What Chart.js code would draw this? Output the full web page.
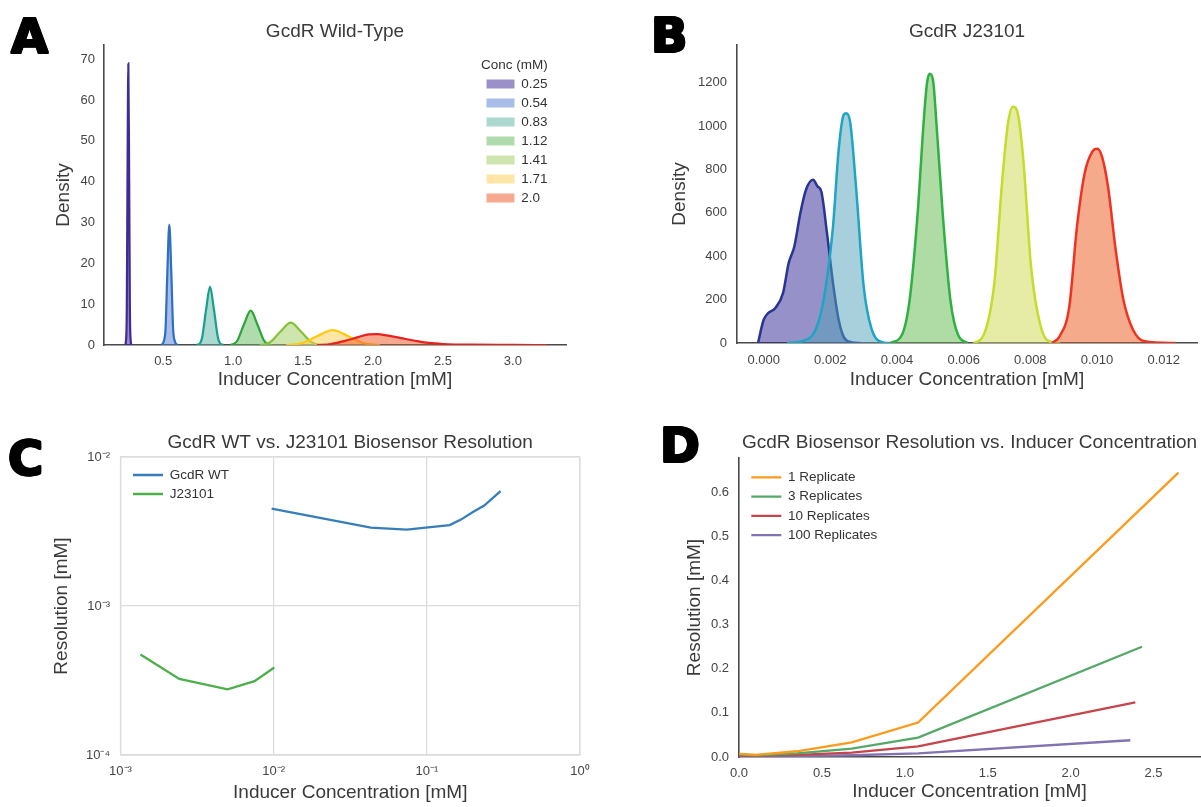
<!DOCTYPE html>
<html>
<head>
<meta charset="utf-8">
<script src="https://cdn.jsdelivr.net/npm/chart.js@4.4.1/dist/chart.umd.min.js"></script>
<style>
  body { margin: 0; background: #fff; }
  #fig { position: relative; width: 1201px; height: 807px; overflow: hidden; }
  #fig canvas { position: absolute; }
  .tag {
    position: absolute; line-height: 1; color: #000;
    font: bold 48px "DejaVu Sans", sans-serif;
    text-shadow: 1px 0 0 #000, -1px 0 0 #000, 0 1px 0 #000, 0 -1px 0 #000,
      1px 1px 0 #000, -1px -1px 0 #000, 1px -1px 0 #000, -1px 1px 0 #000;
  }
</style>
</head>
<body>
<div id="fig">
  <canvas id="chartA" width="600" height="400" style="left:0;top:0"></canvas>
  <canvas id="chartB" width="601" height="400" style="left:600px;top:0"></canvas>
  <canvas id="chartC" width="600" height="407" style="left:0;top:400px"></canvas>
  <canvas id="chartD" width="601" height="407" style="left:600px;top:400px"></canvas>
  <div class="tag" style="left:11px;top:8px">A</div>
  <div class="tag" style="left:651px;top:7px">B</div>
  <div class="tag" style="left:8px;top:430px">C</div>
  <div class="tag" style="left:660px;top:417px">D</div>
</div>
<script>
// A: GcdR wild-type, density per inducer concentration, [mM, density]
const wtConc = ['0.25', '0.54', '0.83', '1.12', '1.41', '1.71', '2.0']
const wt025 = [[0.228,0],[0.234,1],[0.240,9],[0.245,40],[0.251,69],[0.257,40],[0.262,9],[0.268,1],[0.274,0]]
const wt054 = [[0.49,0],[0.505,1],[0.517,4],[0.530,18],[0.544,29.5],[0.558,18],[0.571,4],[0.583,1],[0.60,0]]
const wt083 = [[0.74,0],[0.765,0.5],[0.779,1.9],[0.807,8.7],[0.835,14.3],[0.863,8.7],[0.891,1.9],[0.905,0.5],[0.93,0]]
const wt112 = [[0.98,0],[1.007,0.3],[1.031,1.1],[1.078,5.1],[1.126,8.4],[1.173,5.1],[1.221,1.1],[1.245,0.3],[1.28,0]]
const wt141 = [[1.19,0],[1.23,0.2],[1.266,0.74],[1.339,3.3],[1.412,5.47],[1.485,3.3],[1.558,0.74],[1.595,0.2],[1.64,0]]
const wt171 = [[1.38,0],[1.44,0.15],[1.494,0.5],[1.603,2.2],[1.712,3.67],[1.821,2.2],[1.93,0.5],[1.985,0.15],[2.05,0]]
const wt200 = [[1.6,0],[1.7,0.25],[1.8,1.0],[1.9,2.0],[1.97,2.6],[2.03,2.65],[2.1,2.35],[2.2,1.7],[2.3,1.05],[2.4,0.5],[2.5,0.25],[2.7,0.07],[3.0,0.02],[3.24,0]]
const wtTicksX = [0.5, 1.0, 1.5, 2.0, 2.5, 3.0]
const wtTicksY = [0, 10, 20, 30, 40, 50, 60, 70]

// B: GcdR J23101
const j0015 = [[-0.00017,0],[0,107],[0.00012,135],[0.00035,161],[0.00058,230],[0.00075,368],[0.00092,445],[0.0011,598],[0.00127,706],[0.00148,752],[0.00162,721],[0.00173,698],[0.0019,506],[0.00208,276],[0.00225,107],[0.00242,23],[0.00265,3],[0.0029,0]]
const j0025 = [[0.0007,0],[0.00115,8],[0.0016,77],[0.00185,245],[0.00208,537],[0.00225,890],[0.0024,1051],[0.00248,1059],[0.0026,1013],[0.00277,721],[0.003,261],[0.00323,69],[0.00358,3],[0.0038,0]]
const j0050 = [[0.0038,0],[0.00415,38],[0.00438,200],[0.00462,598],[0.00479,997],[0.0049,1197],[0.00498,1240],[0.00508,1212],[0.00519,997],[0.00537,598],[0.0056,200],[0.00583,38],[0.00612,0]]
const j0075 = [[0.00629,0],[0.00658,31],[0.00692,276],[0.00715,737],[0.00733,1013],[0.00748,1089],[0.00762,1059],[0.00779,844],[0.00802,353],[0.00831,77],[0.00865,3],[0.0089,0]]
const j0100 = [[0.00865,0],[0.00888,31],[0.00917,169],[0.0094,537],[0.00963,782],[0.00986,882],[0.01001,895],[0.01015,859],[0.01033,721],[0.01056,430],[0.01079,200],[0.01108,61],[0.01142,8],[0.01235,0]]
const jTicksX = [0, 0.002, 0.004, 0.006, 0.008, 0.010, 0.012]
const jTicksY = [0, 200, 400, 600, 800, 1000, 1200]

// C: resolution, log-log
const wtResX = [0.0097, 0.0431, 0.0738, 0.141, 0.167, 0.200, 0.237, 0.303]
const wtResY = [0.00451, 0.00336, 0.00326, 0.00349, 0.0038, 0.00428, 0.00472, 0.00591]
const jResX = [0.00135, 0.00242, 0.0050, 0.0075, 0.0101]
const jResY = [0.000473, 0.000324, 0.000276, 0.000313, 0.000387]
const logTicksX = [0.001, 0.01, 0.1, 1]
const logLabelsX = ['10⁻³', '10⁻²', '10⁻¹', '10⁰']
const logTicksY = [0.0001, 0.001, 0.01]
const logLabelsY = ['10⁻⁴', '10⁻³', '10⁻²']

// D: resolution vs replicates
const repNames = ['1 Replicate', '3 Replicates', '10 Replicates', '100 Replicates']
const repConc1 = [0, 0.1, 0.35, 0.68, 1.08, 2.65]
const rep1 = [0.007, 0.005, 0.013, 0.033, 0.078, 0.645]
const repConc3 = [0, 0.1, 0.35, 0.68, 1.08, 2.43]
const rep3 = [0.006, 0.004, 0.008, 0.019, 0.044, 0.25]
const repConc10 = [0, 0.1, 0.35, 0.68, 1.08, 2.39]
const rep10 = [0.004, 0.003, 0.005, 0.010, 0.024, 0.124]
const repConc100 = [0, 0.1, 0.35, 0.68, 1.08, 2.36]
const rep100 = [0.002, 0.001, 0.002, 0.004, 0.008, 0.038]
const repTicksX = [0, 0.5, 1.0, 1.5, 2.0, 2.5]
const repTicksY = [0, 0.1, 0.2, 0.3, 0.4, 0.5, 0.6]

Chart.defaults.font.family = '"Liberation Sans", Arial, sans-serif'
Chart.defaults.color = '#3a3a3a'
Chart.defaults.animation = false
Chart.defaults.events = []
Chart.defaults.elements.point.radius = 0

// move the legend box to a fixed spot inside the plot
const legendAt = {
  id: 'legendAt',
  afterLayout(chart, args, opts) {
    const lg = chart.legend
    if (!lg || opts.x === undefined) return
    const w = lg.width, h = lg.height
    lg.left = opts.x; lg.top = opts.y
    lg.right = opts.x + w; lg.bottom = opts.y + h
  }
}

// light box around the plot (seaborn whitegrid)
const frame = {
  id: 'frame',
  beforeDatasetsDraw(chart, args, opts) {
    const {ctx, chartArea: a} = chart
    ctx.save()
    ctx.strokeStyle = opts.color
    ctx.lineWidth = opts.width
    ctx.strokeRect(a.left, a.top, a.right - a.left, a.bottom - a.top)
    ctx.restore()
  }
}

function axis(o) {
  return {
    type: o.type || 'linear',
    min: o.min,
    max: o.max,
    afterBuildTicks: s => { s.ticks = o.ticks.map(v => ({value: v})) },
    afterFit: s => { if (s.isHorizontal()) s.height = o.size; else s.width = o.size },
    grid: o.grid || {display: true, drawOnChartArea: false, drawTicks: false},
    border: o.border || {display: true, color: '#4a4a4a', width: 1.6},
    ticks: {padding: o.pad, color: '#454545', font: {size: 13}, callback: o.fmt, autoSkip: false, maxRotation: 0},
    title: {display: true, text: o.title, color: '#3a3a3a', font: {size: 19}, padding: o.titlePad}
  }
}

function title(text, top, bottom) {
  return {display: true, text: text, fullSize: false, color: '#3a3a3a',
    font: {size: 19, weight: 'normal'}, padding: {top: top, bottom: bottom}}
}

function density(data, label, line, fill, n, i, width) {
  return {
    label: label, data: data, borderColor: line, backgroundColor: fill,
    borderWidth: width, fill: 'origin', cubicInterpolationMode: 'monotone', order: n - i
  }
}

const wtLines = ['#412a91', '#2f6fbf', '#17a08c', '#2ca53a', '#86c13a', '#ffc90a', '#e8201f']
const wtFills = ['rgba(55,35,145,0.5)', 'rgba(81,123,209,0.5)', 'rgba(87,177,159,0.5)', 'rgba(97,185,91,0.5)',
  'rgba(159,203,93,0.5)', 'rgba(255,205,77,0.5)', 'rgba(237,83,29,0.5)']
const wtSeries = [wt025, wt054, wt083, wt112, wt141, wt171, wt200]

new Chart('chartA', {
  type: 'line',
  data: {datasets: wtSeries.map((d, i) => density(d, wtConc[i], wtLines[i], wtFills[i], wtSeries.length, i, 2.2))},
  options: {
    responsive: false,
    layout: {padding: {left: 0, top: 0, right: 34, bottom: 0}},
    scales: {
      x: axis({min: 0.077, max: 3.38, ticks: wtTicksX, fmt: v => v.toFixed(1), size: 55, pad: 8.2,
        title: 'Inducer Concentration [mM]', titlePad: {top: 0, bottom: 8.6}}),
      y: axis({min: 0, max: 73.5, ticks: wtTicksY, fmt: v => String(v), size: 104, pad: 9,
        title: 'Density', titlePad: {top: 52.1, bottom: 0}})
    },
    plugins: {
      title: title('GcdR Wild-Type', 20.6, 1.6),
      tooltip: {enabled: false},
      legend: {
        position: 'chartArea', align: 'start',
        title: {display: true, text: 'Conc (mM)', position: 'start', color: '#333',
          font: {size: 13.5, lineHeight: 1}, padding: {top: 0, bottom: 0}},
        labels: {
          boxWidth: 28, boxHeight: 9, padding: 5.5, font: {size: 13.5},
          generateLabels: chart => chart.data.datasets.map((ds, i) => ({
            text: ds.label, fillStyle: ds.backgroundColor, strokeStyle: ds.backgroundColor,
            lineWidth: 0, hidden: false, datasetIndex: i, fontColor: '#333'
          }))
        }
      },
      legendAt: {x: 481, y: 58.25}
    }
  },
  plugins: [legendAt]
})

const jLines = ['#283593', '#1ea5c3', '#2eb042', '#c6dc2a', '#ef3320']
const jFills = ['rgba(45,35,145,0.5)', 'rgba(81,161,185,0.5)', 'rgba(95,185,75,0.5)', 'rgba(205,217,75,0.5)', 'rgba(235,85,25,0.5)']
const jSeries = [j0015, j0025, j0050, j0075, j0100]

new Chart('chartB', {
  type: 'line',
  data: {datasets: jSeries.map((d, i) => density(d, 'J23101 ' + i, jLines[i], jFills[i], jSeries.length, i, 2.5))},
  options: {
    responsive: false,
    layout: {padding: {left: 0, top: 0, right: 4, bottom: 0}},
    scales: {
      x: axis({min: -0.0008, max: 0.013, ticks: jTicksX, fmt: v => v.toFixed(3), size: 57, pad: 9.2,
        title: 'Inducer Concentration [mM]', titlePad: {top: 0, bottom: 8.6}}),
      y: axis({min: 0, max: 1373, ticks: jTicksY, fmt: v => String(v), size: 137, pad: 10,
        title: 'Density', titlePad: {top: 68.6, bottom: 0}})
    },
    plugins: {
      title: title('GcdR J23101', 20.6, 1.6),
      tooltip: {enabled: false},
      legend: {display: false}
    }
  }
})

const gridLight = {display: true, drawTicks: false, color: '#dcdcdc', lineWidth: 1.2}
const borderLight = {display: true, color: '#dcdcdc', width: 1.2}

new Chart('chartC', {
  type: 'line',
  data: {
    datasets: [
      {label: 'GcdR WT', data: wtResX.map((x, i) => ({x: x, y: wtResY[i]})), borderColor: '#377eb8', borderWidth: 2.3, fill: false},
      {label: 'J23101', data: jResX.map((x, i) => ({x: x, y: jResY[i]})), borderColor: '#4daf4a', borderWidth: 2.3, fill: false}
    ]
  },
  options: {
    responsive: false,
    layout: {padding: {left: 0, top: 0, right: 20, bottom: 0}},
    scales: {
      x: axis({type: 'logarithmic', min: 0.001, max: 1, ticks: logTicksX, fmt: v => logLabelsX[logTicksX.indexOf(v)],
        size: 52, pad: 8.2, grid: gridLight, border: borderLight,
        title: 'Inducer Concentration [mM]', titlePad: {top: 0, bottom: 2.6}}),
      y: axis({type: 'logarithmic', min: 0.0001, max: 0.01, ticks: logTicksY, fmt: v => logLabelsY[logTicksY.indexOf(v)],
        size: 120.5, pad: 10.5, grid: gridLight, border: borderLight,
        title: 'Resolution [mM]', titlePad: {top: 50.6, bottom: 0}})
    },
    plugins: {
      title: title('GcdR WT vs. J23101 Biosensor Resolution', 31.6, 2.6),
      tooltip: {enabled: false},
      legend: {
        position: 'chartArea', align: 'start',
        labels: {usePointStyle: true, pointStyle: 'line', pointStyleWidth: 30, padding: 5.5, font: {size: 13.5}, color: '#333'}
      },
      legendAt: {x: 127.5, y: 62.75},
      frame: {color: '#dcdcdc', width: 1.2}
    }
  },
  plugins: [legendAt, frame]
})

const repColors = ['#fc9a1c', '#55a868', '#c7444a', '#8172b2']
const repX = [repConc1, repConc3, repConc10, repConc100]
const repY = [rep1, rep3, rep10, rep100]

new Chart('chartD', {
  type: 'line',
  data: {
    datasets: repNames.map((name, k) => ({
      label: name,
      data: repX[k].map((x, i) => ({x: x, y: repY[k][i]})),
      borderColor: repColors[k], borderWidth: 2.3, fill: false
    }))
  },
  options: {
    responsive: false,
    layout: {padding: {left: 0, top: 0, right: 1, bottom: 0}},
    scales: {
      x: axis({min: 0, max: 2.78, ticks: repTicksX, fmt: v => v.toFixed(1), size: 50, pad: 8.2,
        title: 'Inducer Concentration [mM]', titlePad: {top: 0, bottom: 3.6}}),
      y: axis({min: 0, max: 0.678, ticks: repTicksY, fmt: v => v.toFixed(1), size: 139, pad: 10,
        title: 'Resolution [mM]', titlePad: {top: 83.6, bottom: 0}})
    },
    plugins: {
      title: title('GcdR Biosensor Resolution vs. Inducer Concentration', 31.6, 3.6),
      tooltip: {enabled: false},
      legend: {
        position: 'chartArea', align: 'start',
        labels: {usePointStyle: true, pointStyle: 'line', pointStyleWidth: 30, padding: 5.8, font: {size: 13.5}, color: '#333'}
      },
      legendAt: {x: 145.5, y: 64.75}
    }
  },
  plugins: [legendAt]
})
</script>
</body>
</html>
